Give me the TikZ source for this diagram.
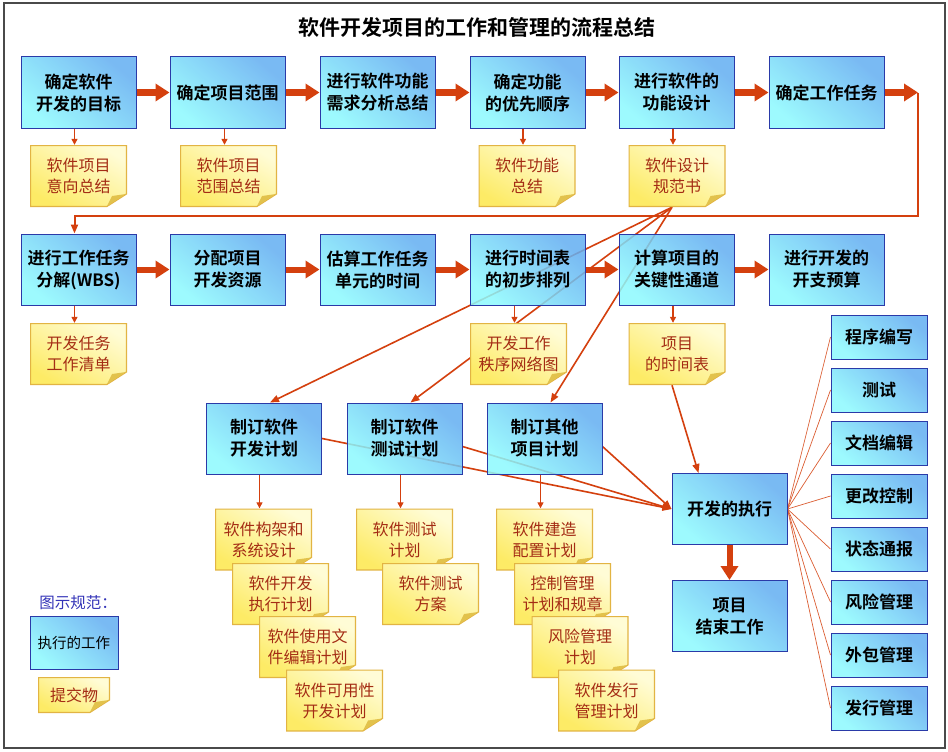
\documentclass[tikz,border=0pt]{standalone}
\usepackage{fontspec}
\usepackage{xcolor}
\usepackage{tikz}
\usetikzlibrary{arrows.meta,positioning,calc,backgrounds}
\newfontfamily\cjk{Noto Sans CJK SC}[BoldFont={Noto Sans CJK SC Bold}]
\definecolor{flowRed}{HTML}{D4400E}
\definecolor{boxEdge}{HTML}{2A3AA8}
\definecolor{boxBlue}{HTML}{62AEF2}
\definecolor{boxCyan}{HTML}{8CFAFE}
\definecolor{noteEdge}{HTML}{E2B443}
\definecolor{noteLight}{HTML}{FFFCD6}
\definecolor{noteDeep}{HTML}{FDEB66}
\definecolor{noteFold}{HTML}{E2C24C}
\definecolor{noteInk}{HTML}{A42C14}
\definecolor{legendInk}{HTML}{3434B8}
\definecolor{frameGray}{HTML}{4A4A4A}

\begin{document}
\begin{tikzpicture}[x=1pt,y=-1pt,
  task/.style={draw=boxEdge,line width=1pt,top color=boxBlue,bottom color=boxCyan,
               shading angle=-40,fill opacity=0.85,text opacity=1,
               minimum width=115pt,minimum height=71pt,inner sep=2pt,align=center,
               font=\cjk\bfseries\fontsize{17}{22}\selectfont},
  side/.style={task,minimum width=96pt,minimum height=44pt},
  note/.style={minimum width=97pt,minimum height=62pt,inner sep=0pt,align=center,
               text=noteInk,font=\cjk\fontsize{16}{21}\selectfont,
               path picture={
                 \draw[noteEdge,line width=1.2pt,top color=noteLight,bottom color=noteDeep,shading angle=-30]
                   ([shift={(0.6pt,-0.6pt)}]path picture bounding box.north west)
                   -- ([shift={(-0.6pt,-0.6pt)}]path picture bounding box.north east)
                   -- ([shift={(-0.6pt,13pt)}]path picture bounding box.south east)
                   -- ([shift={(-20pt,0.6pt)}]path picture bounding box.south east)
                   -- ([shift={(0.6pt,0.6pt)}]path picture bounding box.south west) -- cycle;
                 \fill[noteFold]
                   ([shift={(-1pt,13pt)}]path picture bounding box.south east)
                   -- ([shift={(-20pt,1pt)}]path picture bounding box.south east)
                   -- ([shift={(-15pt,11pt)}]path picture bounding box.south east) -- cycle;
               }},
  big/.style={-{Triangle[length=14pt,width=17pt]},line width=6pt,flowRed},
  thin/.style={-{Triangle[length=6pt,width=6pt]},line width=1.3pt,flowRed},
  link/.style={-{Triangle[length=9pt,width=7pt]},line width=1.6pt,flowRed},
  spoke/.style={flowRed!85,line width=0.7pt}
]
\useasboundingbox (0,0) rectangle (948,752);
\begin{scope}[on background layer]
\fill[white] (0,0) rectangle (948,752);
\end{scope}
\draw[frameGray,line width=1.2pt] (4,3) rectangle (945,748);

\node[font=\cjk\bfseries\fontsize{21}{24}\selectfont] (title) at (477,27) {软件开发项目的工作和管理的流程总结};

% first row
\node[task] (goal)   at (78.5,92.5)  {确定软件\\开发的目标};
\node[task] (scope)  at (227.5,92.5) {确定项目范围};
\node[task] (req)    at (377.5,92.5) {进行软件功能\\需求分析总结};
\node[task] (prio)   at (527.5,92.5) {确定功能\\的优先顺序};
\node[task] (design) at (676.5,92.5) {进行软件的\\功能设计};
\node[task] (tasks)  at (826.5,92.5) {确定工作任务};

\node[note] (n-goal)   at (78.5,176)  {软件项目\\意向总结};
\node[note] (n-scope)  at (228.5,176) {软件项目\\范围总结};
\node[note] (n-prio)   at (527,176)   {软件功能\\总结};
\node[note] (n-design) at (677,176)   {软件设计\\规范书};

% second row
\node[task] (wbs)    at (78.5,269.5)  {进行工作任务\\分解(WBS)};
\node[task] (res)    at (227.5,269.5) {分配项目\\开发资源};
\node[task] (est)    at (377.5,269.5) {估算工作任务\\单元的时间};
\node[task] (sched)  at (527.5,269.5) {进行时间表\\的初步排列};
\node[task] (crit)   at (676.5,269.5) {计算项目的\\关键性通道};
\node[task] (budget) at (826.5,269.5) {进行开发的\\开支预算};

\node[note] (n-wbs)   at (78.5,354) {开发任务\\工作清单};
\node[note] (n-sched) at (518.5,354) {开发工作\\秩序网络图};
\node[note] (n-crit)  at (677,354)  {项目\\的时间表};

% plans
\node[task] (plan-dev)   at (264,438.5)   {制订软件\\开发计划};
\node[task] (plan-test)  at (404.5,438.5) {制订软件\\测试计划};
\node[task] (plan-other) at (544.5,438.5) {制订其他\\项目计划};

\node[note] (n-arch)  at (263.5,539.5) {软件构架和\\系统设计};
\node[note] (n-exec)  at (280.5,594)   {软件开发\\执行计划};
\node[note] (n-user)  at (307.5,647)   {软件使用文\\件编辑计划};
\node[note] (n-usab)  at (334.5,700.5) {软件可用性\\开发计划};

\node[note] (n-tplan) at (404.5,539.5) {软件测试\\计划};
\node[note] (n-tcase) at (430.5,594)   {软件测试\\方案};

\node[note] (n-build) at (544.5,539.5) {软件建造\\配置计划};
\node[note] (n-ctrl)  at (562.5,594)   {控制管理\\计划和规章};
\node[note] (n-risk)  at (580,647)     {风险管理\\计划};
\node[note] (n-rel)   at (606.5,700.5) {软件发行\\管理计划};

% execution
\node[task] (exec)  at (729.5,509) {开发的执行};
\node[task] (close) at (729.5,616) {项目\\结束工作};

\node[side] (code)    at (879,337) {程序编写};
\node[side] (test)    at (879,390) {测试};
\node[side] (doc)     at (879,443) {文档编辑};
\node[side] (change)  at (879,496) {更改控制};
\node[side] (status)  at (879,549) {状态通报};
\node[side] (risk)    at (879,602) {风险管理};
\node[side] (outsrc)  at (879,655) {外包管理};
\node[side] (release) at (879,708) {发行管理};

% legend
\node[text=legendInk,font=\cjk\fontsize{15.5}{18}\selectfont] (key) at (78,603) {图示规范：};
\node[task,minimum width=88pt,minimum height=53pt,font=\cjk\fontsize{14.5}{17}\selectfont] (key-task) at (74,642.5) {执行的工作};
\node[note,minimum width=72pt,minimum height=36pt] (key-note) at (74,695) {提交物};

% main flow
\foreach \a/\b in {goal/scope,scope/req,req/prio,prio/design,design/tasks,
                   wbs/res,res/est,est/sched,sched/crit,crit/budget}
  \draw[big] (\a) -- (\b);
\coordinate (turn) at (918,92.5);
\draw[big] (tasks.east) -- (turn);
\draw[link,line width=2pt] (turn) -- ++(0,123) -| ([xshift=-4pt]wbs.north);
\draw[big] (exec.south) -- (close.north);

% deliverables
\foreach \b/\n in {goal/n-goal,scope/n-scope,prio/n-prio,design/n-design,
                   wbs/n-wbs,sched/n-sched,crit/n-crit,
                   plan-dev/n-arch,plan-test/n-tplan,plan-other/n-build}
  \draw[thin] ([xshift=-4pt]\n.north |- \b.south) -- ([xshift=-4pt]\n.north);

% crossing links
\begin{scope}[on background layer]
\foreach \p in {plan-dev,plan-test,plan-other}
  \draw[link] ([xshift=-5pt]n-design.south) -- ([xshift=6pt]\p.north);
\draw[link] ([xshift=-5pt]n-crit.south) -- ([xshift=-31pt]exec.north);
\draw[link] (plan-dev.east) -- (exec.west);
\draw[link] ([yshift=-8pt]plan-test.east) -- (exec.west);
\draw[link] ([yshift=-8pt]plan-other.east) -- (exec.west);
\foreach \s in {code,test,doc,change,status,risk,outsrc,release}
  \draw[spoke] (exec.east) -- (\s.west);
\end{scope}
\end{tikzpicture}
\end{document}
